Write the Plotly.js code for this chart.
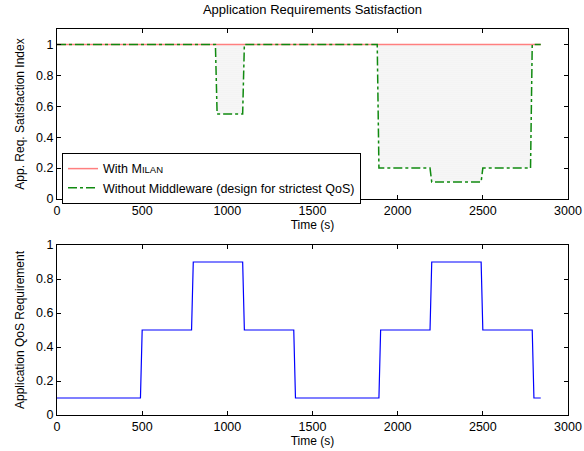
<!DOCTYPE html>
<html><head><meta charset="utf-8">
<script src="https://cdn.plot.ly/plotly-3.0.1.min.js"></script>
<style>html,body{margin:0;padding:0;background:#fff}#chart{width:584px;height:451px}</style>
</head><body><div id="chart"></div>
<script>
// Top panel data
const milanX = [0, 2840];
const milanY = [1, 1];
const noMwX = [0, 930, 940, 1090, 1100, 1880, 1890, 2190, 2200, 2490, 2500, 2780, 2790, 2840];
const noMwY = [1, 1, 0.55, 0.55, 1, 1, 0.2, 0.2, 0.11, 0.11, 0.2, 0.2, 1, 1];
// Bottom panel data
const qosX = [0, 490, 500, 790, 800, 1090, 1100, 1390, 1400, 1890, 1900, 2190, 2200, 2490, 2500, 2790, 2800, 2840];
const qosY = [0.1, 0.1, 0.5, 0.5, 0.9, 0.9, 0.5, 0.5, 0.1, 0.1, 0.5, 0.5, 0.9, 0.9, 0.5, 0.5, 0.1, 0.1];
const xTicks = [0, 500, 1000, 1500, 2000, 2500, 3000];
const yTicks = [0, 0.2, 0.4, 0.6, 0.8, 1];
const yTickText = ['0', '0.2', '0.4', '0.6', '0.8', '1'];

const fam = 'Arial, "Liberation Sans", sans-serif';
const font = {family: fam, size: 12, color: '#000'};
const tickFont = {family: fam, size: 12.5, color: '#000'};
const traces = [
  {x: milanX, y: milanY, mode: 'lines', name: 'With M<span style="font-size:9.5px">ILAN</span>',
   line: {color: '#ff7f7f', width: 1.5}, xaxis: 'x', yaxis: 'y'},
  {x: noMwX, y: noMwY, mode: 'none', fill: 'tonexty', showlegend: false, hoverinfo: 'skip',
   fillpattern: {shape: '.', fgcolor: '#e2e2e2', bgcolor: '#fbfbfb', size: 2, solidity: 0.25},
   xaxis: 'x', yaxis: 'y'},
  {x: noMwX, y: noMwY, mode: 'lines', name: 'Without Middleware (design for strictest QoS)',
   line: {color: '#108a10', width: 1.5, dash: 'dashdot'}, xaxis: 'x', yaxis: 'y'},
  {x: qosX, y: qosY, mode: 'lines', showlegend: false,
   line: {color: '#0000ff', width: 1.2}, xaxis: 'x2', yaxis: 'y2'}
];
const axBase = {showgrid: false, zeroline: false, showline: true, linecolor: '#000', linewidth: 1,
  mirror: 'ticks', ticks: 'inside', ticklen: 4, tickcolor: '#000', tickfont: tickFont};
const layout = {
  width: 584, height: 451,
  margin: {l: 57, r: 16, t: 29, b: 36},
  paper_bgcolor: '#fff', plot_bgcolor: '#fff',
  font: font,
  title: {text: 'Application Requirements Satisfaction', font: {family: fam, size: 13, color: '#000'},
    x: 0.535, xref: 'container', y: 0.978, yref: 'container', yanchor: 'middle'},
  xaxis: Object.assign({}, axBase, {domain: [0, 1], range: [0, 3000], tickvals: xTicks, anchor: 'y',
    title: {text: 'Time (s)', font: font, standoff: 1}}),
  yaxis: Object.assign({}, axBase, {domain: [0.5596, 1], range: [0, 1.1], tickvals: yTicks, ticktext: yTickText, anchor: 'x',
    title: {text: 'App. Req. Satisfaction Index', font: font, standoff: 8}}),
  xaxis2: Object.assign({}, axBase, {domain: [0, 1], range: [0, 3000], tickvals: xTicks, anchor: 'y2',
    title: {text: 'Time (s)', font: font, standoff: 1}}),
  yaxis2: Object.assign({}, axBase, {domain: [0, 0.4404], range: [0, 1], tickvals: yTicks, ticktext: yTickText, anchor: 'x2',
    title: {text: 'Application QoS Requirement', font: font, standoff: 8}}),
  showlegend: true,
  legend: {x: 0.0098, y: 0.6788, xanchor: 'left', yanchor: 'top', bgcolor: '#fff',
    bordercolor: '#000', borderwidth: 1, font: {family: fam, size: 12.5, color: '#000'},
    traceorder: 'normal', itemwidth: 30, tracegroupgap: 0}
};
Plotly.newPlot('chart', traces, layout, {displayModeBar: false, staticPlot: true});
</script></body></html>
